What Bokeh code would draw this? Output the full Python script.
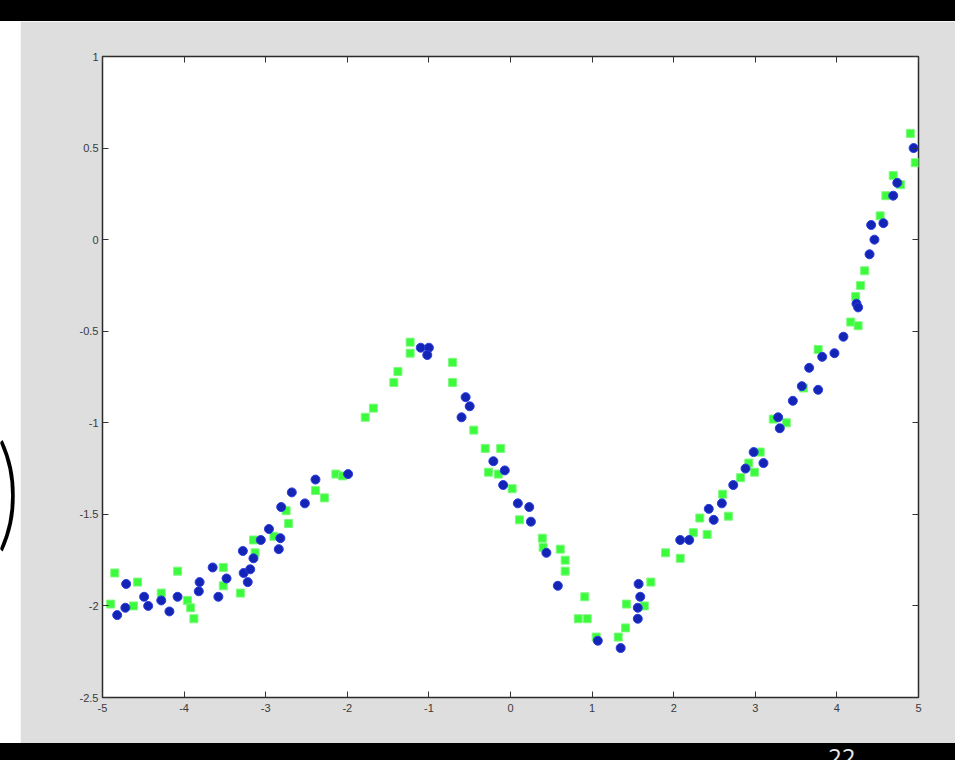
from bokeh.plotting import figure
from bokeh.models import Range1d, FixedTicker, LinearAxis, Div
from bokeh.layouts import column, row
from bokeh.embed import file_html
from bokeh.resources import INLINE

# ---- data ----
blue_x = [-4.82, -4.71, -4.72, -4.49, -4.44, -4.28, -4.18, -4.08, -3.81, -3.82,
          -3.58, -3.65, -3.48, -3.28, -3.27, -3.19, -3.22, -3.15, -3.06, -2.96,
          -2.84, -2.82, -2.81, -2.68, -2.52, -2.39, -1.99, -1.10, -1.00, -1.02,
          -0.55, -0.50, -0.60, -0.21, -0.07, -0.09, 0.09, 0.23, 0.25, 0.44,
          0.58, 1.07, 1.35, 1.56, 1.56, 1.59, 1.57, 2.08, 2.19, 2.43,
          2.49, 2.59, 2.73, 2.88, 2.98, 3.10, 3.30, 3.28, 3.46, 3.57,
          3.77, 3.66, 3.82, 3.97, 4.08, 4.24, 4.26, 4.40, 4.46, 4.42,
          4.57, 4.69, 4.74, 4.94]
blue_y = [-2.05, -1.88, -2.01, -1.95, -2.00, -1.97, -2.03, -1.95, -1.87, -1.92,
          -1.95, -1.79, -1.85, -1.70, -1.82, -1.80, -1.87, -1.74, -1.64, -1.58,
          -1.69, -1.63, -1.46, -1.38, -1.44, -1.31, -1.28, -0.59, -0.59, -0.63,
          -0.86, -0.91, -0.97, -1.21, -1.26, -1.34, -1.44, -1.46, -1.54, -1.71,
          -1.89, -2.19, -2.23, -2.07, -2.01, -1.95, -1.88, -1.64, -1.64, -1.47,
          -1.53, -1.44, -1.34, -1.25, -1.16, -1.22, -1.03, -0.97, -0.88, -0.80,
          -0.82, -0.70, -0.64, -0.62, -0.53, -0.35, -0.37, -0.08, 0.00, 0.08,
          0.09, 0.24, 0.31, 0.50]

green_x = [-4.85, -4.90, -4.57, -4.62, -4.28, -4.08, -3.96, -3.88, -3.92, -3.52,
           -3.52, -3.31, -3.15, -3.13, -2.90, -2.72, -2.75, -2.39, -2.28, -2.14,
           -2.06, -1.78, -1.68, -1.43, -1.38, -1.23, -1.23, -0.71, -0.71, -0.45,
           -0.31, -0.12, -0.27, -0.15, 0.02, 0.11, 0.39, 0.40, 0.61, 0.67,
           0.67, 0.91, 0.83, 0.94, 1.05, 1.41, 1.32, 1.42, 1.64, 1.72,
           1.90, 2.08, 2.24, 2.41, 2.32, 2.67, 2.60, 2.82, 2.92, 2.99,
           3.06, 3.22, 3.38, 3.59, 3.77, 4.17, 4.26, 4.23, 4.29, 4.34,
           4.53, 4.60, 4.69, 4.78, 4.90, 4.96]
green_y = [-1.82, -1.99, -1.87, -2.00, -1.93, -1.81, -1.97, -2.07, -2.01, -1.79,
           -1.89, -1.93, -1.64, -1.71, -1.62, -1.55, -1.48, -1.37, -1.41, -1.28,
           -1.29, -0.97, -0.92, -0.78, -0.72, -0.56, -0.62, -0.67, -0.78, -1.04,
           -1.14, -1.14, -1.27, -1.28, -1.36, -1.53, -1.63, -1.68, -1.69, -1.75,
           -1.81, -1.95, -2.07, -2.07, -2.17, -2.12, -2.17, -1.99, -2.00, -1.87,
           -1.71, -1.74, -1.60, -1.61, -1.52, -1.51, -1.39, -1.30, -1.22, -1.27,
           -1.16, -0.98, -1.00, -0.81, -0.60, -0.45, -0.47, -0.31, -0.25, -0.17,
           0.13, 0.24, 0.35, 0.30, 0.58, 0.42]

x_ticks = [-5, -4, -3, -2, -1, 0, 1, 2, 3, 4, 5]
x_tick_labels = ["-5", "-4", "-3", "-2", "-1", "0", "1", "2", "3", "4", "5"]
y_ticks = [-2.5, -2, -1.5, -1, -0.5, 0, 0.5, 1]
y_tick_labels = ["-2.5", "-2", "-1.5", "-1", "-0.5", "0", "0.5", "1"]

PAGE_W = 955
TOP_BAR, BOTTOM_BAR, LEFT_STRIP = 21, 17, 20
FIG_W = PAGE_W - LEFT_STRIP
FIG_H = 760 - TOP_BAR - BOTTOM_BAR
GRAY = "#dedede"

p = figure(width=FIG_W, height=FIG_H, output_backend="svg", toolbar_location=None,
           x_range=Range1d(-5, 5), y_range=Range1d(-2.5, 1),
           min_border_left=82, min_border_right=37, min_border_top=35,
           min_border_bottom=46, x_axis_location=None, y_axis_location=None,
           margin=0)
p.border_fill_color = GRAY
p.background_fill_color = "white"
p.outline_line_color = "#2a2a2a"
p.outline_line_width = 1.5
p.grid.visible = False


def style_axis(ax, ticks, labels, show_labels):
    ax.ticker = FixedTicker(ticks=ticks)
    ax.major_label_overrides = {t: l for t, l in zip(ticks, labels)}
    ax.major_tick_in = 6
    ax.major_tick_out = 0
    ax.major_tick_line_color = "#333333"
    ax.minor_tick_line_color = None
    ax.axis_line_color = None
    ax.major_label_text_font = "Liberation Sans"
    ax.major_label_text_font_size = "11px"
    ax.major_label_text_color = "#3a3a3a" if show_labels else None
    ax.major_label_standoff = 4


bottom = LinearAxis()
style_axis(bottom, x_ticks, x_tick_labels, True)
bottom.major_label_standoff = 6
left = LinearAxis()
style_axis(left, y_ticks, y_tick_labels, True)
top = LinearAxis()
style_axis(top, x_ticks, x_tick_labels, False)
right = LinearAxis()
style_axis(right, y_ticks, y_tick_labels, False)
p.add_layout(bottom, "below")
p.add_layout(left, "left")
p.add_layout(top, "above")
p.add_layout(right, "right")

p.scatter(green_x, green_y, marker="square", size=8, fill_color="#3cfa3c",
          line_color="#7dfb7d", line_width=1)
p.scatter(blue_x, blue_y, marker="circle", size=9, fill_color="#1424b4",
          line_color="#2a3ee0", line_width=1)

# video frame around the chart: black bars and a white strip with a pen mark
top_div = Div(text="", width=PAGE_W, height=TOP_BAR, margin=0,
              styles={"background-color": "black"})
left_div = Div(text=('<div style="position:absolute; left:-3px; top:404px; '
                     'font-family:Lato; font-weight:300; font-size:125px; '
                     'line-height:1; color:black; transform:scaleX(0.7); '
                     'transform-origin:left top;">)</div>'),
               width=LEFT_STRIP, height=FIG_H, margin=0,
               styles={"background-color": "white", "overflow": "hidden",
                       "position": "relative"})
bottom_div = Div(text=('<div style="position:absolute; left:828px; top:2px; '
                       'font-family:Open Sans; font-size:24px; line-height:1; '
                       'color:#e8e8e8;">22</div>'),
                 width=PAGE_W, height=BOTTOM_BAR, margin=0,
                 styles={"background-color": "black", "overflow": "hidden",
                         "position": "relative"})

layout = column(top_div, row(left_div, p, spacing=0, margin=0), bottom_div,
                spacing=0, margin=0)

open("out.html", "w").write(file_html(layout, INLINE))
